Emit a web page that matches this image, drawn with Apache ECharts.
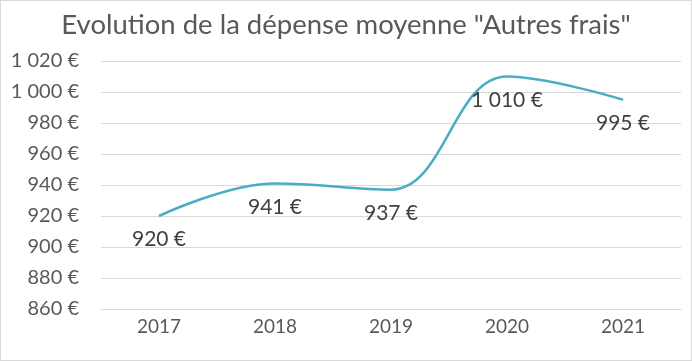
<!DOCTYPE html>
<html><head><meta charset="utf-8">
<script src="https://cdn.jsdelivr.net/npm/echarts@6/dist/echarts.min.js"></script>
<style>html,body{margin:0;padding:0;background:#fff}#c{width:690px;height:359px;border:1px solid #d9d9d9}</style>
</head><body><div id="c"></div>
<script>
const title = 'Evolution de la dépense moyenne "Autres frais"';
const categories = ['2017','2018','2019','2020','2021'];
const values = [920, 941, 937, 1010, 995];
const yMin = 860, yMax = 1020, yStep = 20;

function fmt(v){
  const s = String(Math.round(v));
  return s.replace(/\B(?=(\d{3})+(?!\d))/g, ' ') + ' €';
}
const chart = echarts.init(document.getElementById('c'));
chart.setOption({
  animation:false,
  textStyle:{fontFamily:'Lato'},
  title:{text:title,left:'center',top:5,textStyle:{fontFamily:'Lato',fontSize:27.5,fontWeight:'normal',color:'#595959'}},
  grid:{left:100,right:10,top:60,bottom:51},
  xAxis:{type:'category',data:categories,boundaryGap:true,
    axisLine:{lineStyle:{color:'#d9d9d9'}},axisTick:{show:false},
    axisLabel:{fontSize:19,color:'#595959',margin:8}},
  yAxis:{type:'value',min:yMin,max:yMax,interval:yStep,
    axisLine:{show:false},axisTick:{show:false},
    splitLine:{lineStyle:{color:'#d9d9d9'}},
    axisLabel:{fontSize:20,color:'#595959',margin:22,formatter:fmt}},
  series:[{type:'line',data:values,smooth:0.4,symbol:'circle',symbolSize:2,showSymbol:true,
    itemStyle:{color:'rgba(75,172,198,0)',borderWidth:0},
    lineStyle:{color:'#4bacc6',width:2.5},
    label:{show:true,position:'bottom',distance:12,fontSize:21,color:'#404040',formatter:function(p){return fmt(p.value);}}}]
});
</script></body></html>
